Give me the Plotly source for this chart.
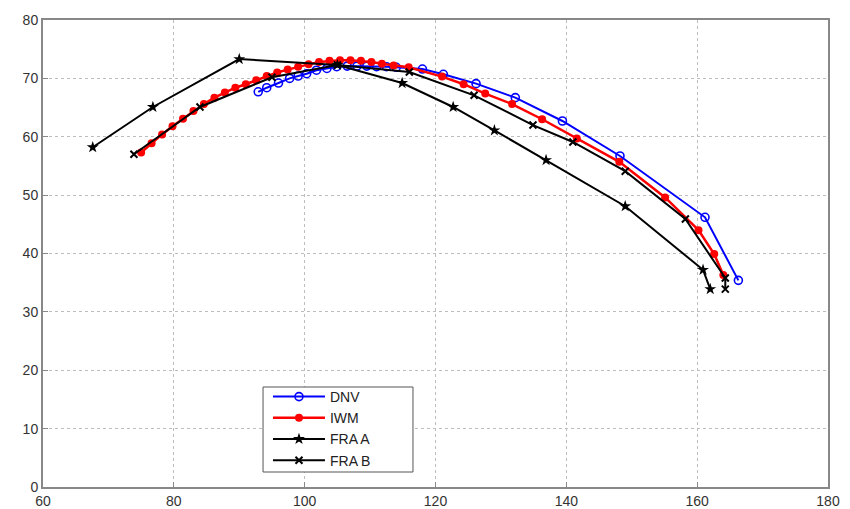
import plotly.graph_objects as go

# DNV (blue, open circles)
dnv_x = [92.9, 94.2, 96.0, 97.7, 99.0, 100.3, 101.8, 103.4, 104.9, 106.5, 108.0, 109.5,
         111.0, 112.5, 114.0, 118.0, 121.2, 126.2, 132.2, 139.4, 148.2, 161.2, 166.3]
dnv_y = [67.7, 68.4, 69.2, 70.0, 70.4, 70.8, 71.4, 71.7, 72.0, 72.1, 72.1, 72.1,
         72.0, 72.0, 71.9, 71.6, 70.7, 69.1, 66.7, 62.7, 56.7, 46.2, 35.4]

# IWM (red, filled dots)
iwm_x = [75.0, 76.6, 78.2, 79.8, 81.4, 83.0, 84.6, 86.2, 87.8, 89.4, 91.0, 92.6, 94.2,
         95.8, 97.4, 99.0, 100.6, 102.2, 103.8, 105.4, 107.0, 108.6, 110.2, 111.8, 113.6,
         115.9, 121.0, 124.3, 127.6, 131.7, 136.3, 141.6, 148.1, 155.1, 160.2, 162.6, 164.0]
iwm_y = [57.3, 58.9, 60.4, 61.8, 63.1, 64.4, 65.6, 66.7, 67.6, 68.4, 69.0, 69.7, 70.4,
         71.0, 71.5, 72.0, 72.4, 72.8, 73.0, 73.1, 73.1, 73.0, 72.8, 72.5, 72.2,
         71.9, 70.3, 69.0, 67.4, 65.6, 63.0, 59.7, 55.7, 49.6, 44.0, 39.9, 36.3]

# FRA A (black, star markers)
fra_a_x = [67.6, 76.8, 90.0, 105.0, 114.9, 122.7, 129.0, 136.9, 149.0, 160.9, 162.0]
fra_a_y = [58.2, 65.1, 73.3, 72.3, 69.2, 65.1, 61.1, 56.0, 48.1, 37.2, 33.9]

# FRA B (black, x markers)
fra_b_x = [73.9, 84.0, 95.0, 105.0, 116.0, 125.9, 134.9, 141.0, 149.0, 158.2, 164.3, 164.3]
fra_b_y = [57.0, 65.1, 70.2, 72.3, 71.1, 67.1, 62.0, 59.1, 54.1, 45.9, 35.8, 33.9]

x_ticks = [60, 80, 100, 120, 140, 160, 180]
y_ticks = [0, 10, 20, 30, 40, 50, 60, 70, 80]

FONT = "Liberation Sans, Arial, Helvetica, sans-serif"

fig = go.Figure()
fig.add_trace(go.Scatter(x=dnv_x, y=dnv_y, name="DNV", mode="lines+markers",
                         line=dict(color="#0000ff", width=2),
                         marker=dict(symbol="circle-open", size=8, color="#0000ff",
                                     line=dict(width=1.6))))
fig.add_trace(go.Scatter(x=iwm_x, y=iwm_y, name="IWM", mode="lines+markers",
                         line=dict(color="#ff0000", width=2.5),
                         marker=dict(symbol="circle", size=8, color="#ff0000")))
fig.add_trace(go.Scatter(x=fra_a_x, y=fra_a_y, name="FRA A", mode="lines+markers",
                         line=dict(color="#000000", width=2),
                         marker=dict(symbol="star", size=9, color="#000000")))
fig.add_trace(go.Scatter(x=fra_b_x, y=fra_b_y, name="FRA B", mode="lines+markers",
                         line=dict(color="#000000", width=2),
                         marker=dict(symbol="x-thin-open", size=7, color="#000000",
                                     line=dict(width=2, color="#000000"))))

axis_common = dict(showline=True, linecolor="#888888", linewidth=2, mirror=True,
                   ticks="inside", ticklen=5, tickcolor="#888888",
                   showgrid=True, gridcolor="#bdbdbd", griddash="dot", gridwidth=1,
                   zeroline=False, automargin=False,
                   tickfont=dict(family=FONT, size=14, color="#333333"))

fig.update_xaxes(range=[60, 180], tickvals=x_ticks, **axis_common)
fig.update_yaxes(range=[0, 80], tickvals=y_ticks, **axis_common)

# legend frame drawn as a box (paper coordinates)
fig.add_shape(type="rect", xref="paper", yref="paper",
              x0=0.2803, x1=0.4713, y0=0.0321, y1=0.2141,
              line=dict(color="#555555", width=1), fillcolor="white", layer="above")

# the HTML page adds an 8 px body margin; compensate in the figure size/margins
fig.update_layout(
    width=842, height=501,
    margin=dict(l=35, r=22, t=12, b=22),
    paper_bgcolor="white", plot_bgcolor="white",
    showlegend=True,
    legend=dict(x=0.2866, y=0.2270, xanchor="left", yanchor="top",
                bgcolor="rgba(0,0,0,0)", borderwidth=0,
                font=dict(family=FONT, size=14, color="#222222"),
                tracegroupgap=0, itemwidth=52),
)

fig.write_html("out.html")
